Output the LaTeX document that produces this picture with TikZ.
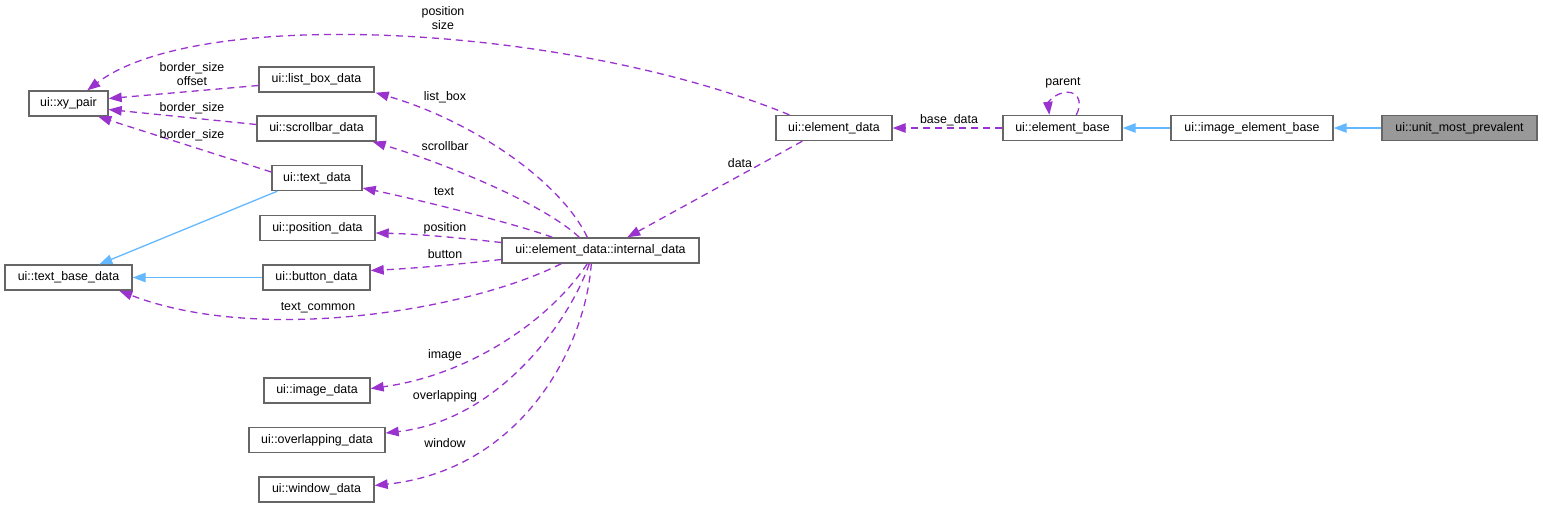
\documentclass[tikz,border=0pt]{standalone}
\usepackage{fontspec}
\setmainfont{Liberation Sans}
\usetikzlibrary{arrows.meta}
\definecolor{dep}{HTML}{9A32CD}
\definecolor{inh}{HTML}{63B8FF}
\definecolor{bord}{HTML}{666666}
\definecolor{focus}{HTML}{999999}
\tikzset{
  box/.style={draw=bord, line width=1.4pt, fill=white, minimum height=25pt, inner sep=0pt, font=\fontsize{12.4}{14}\selectfont},
  focusbox/.style={box, fill=focus},
  depline/.style={draw=dep, line width=1.3pt, dash pattern=on 7pt off 5pt, -{Triangle[length=13pt,width=9.5pt,fill=dep]}},
  inhline/.style={draw=inh, line width=1.3pt, -{Triangle[length=13pt,width=9.5pt,fill=inh]}},
  lbl/.style={font=\fontsize{12.4}{14}\selectfont, inner sep=0pt, align=center}
}
\begin{document}
\begin{tikzpicture}[x=1pt,y=-1pt]
\path[use as bounding box] (0,0) rectangle (1543,507);
% nodes
\node[box, minimum width=79pt]  (xy) at (68.5,103.5) {ui::xy\_pair};
\node[box, minimum width=115pt] (lb) at (316.5,79.5) {ui::list\_box\_data};
\node[box, minimum width=119pt] (sb) at (316.5,128.5) {ui::scrollbar\_data};
\node[box, minimum width=90pt]  (td) at (317,178) {ui::text\_data};
\node[box, minimum width=115pt] (pd) at (317.5,228) {ui::position\_data};
\node[box, minimum width=107pt] (bd) at (316.5,277.5) {ui::button\_data};
\node[box, minimum width=127pt] (tb) at (68.5,277.5) {ui::text\_base\_data};
\node[box, minimum width=106pt] (id) at (317,390.5) {ui::image\_data};
\node[box, minimum width=136pt] (od) at (317,440) {ui::overlapping\_data};
\node[box, minimum width=115pt] (wd) at (316.5,489.5) {ui::window\_data};
\node[box, minimum width=197pt] (in) at (600.5,250.5) {ui::element\_data::internal\_data};
\node[box, minimum width=116pt] (ed) at (834,128) {ui::element\_data};
\node[box, minimum width=119pt] (eb) at (1062.5,128) {ui::element\_base};
\node[box, minimum width=162pt] (ieb) at (1252,128) {ui::image\_element\_base};
\node[focusbox, minimum width=155pt] (ump) at (1459.5,128) {ui::unit\_most\_prevalent};
% inheritance
\draw[inhline] (ump.west) -- (ieb.east);
\draw[inhline] (ieb.west) -- (eb.east);
\draw[inhline] ([xshift=6pt]td.south west) -- ([xshift=95pt]tb.north west);
\draw[inhline] (bd.west) -- (tb.east);
% dependencies
\draw[depline] (eb.west) -- (ed.east);
\draw[depline] ([xshift=74pt]eb.north west) .. controls (1084,100) and (1076,89) .. (1062,93) .. controls (1052,96) and (1048,103) .. ([xshift=47pt]eb.north west);
\draw[depline] ([xshift=27pt]ed.south west) -- ([xshift=126pt]in.north west);
\draw[depline] ([xshift=14pt]ed.north west) .. controls (570,25) and (200,5) .. ([xshift=59pt]xy.north west);
\draw[depline] ([yshift=-6pt]lb.west) -- ([yshift=5pt]xy.east);
\draw[depline] ([yshift=4pt]sb.west) -- ([yshift=-6pt]xy.east);
\draw[depline] ([yshift=6pt]td.west) -- ([xshift=70pt]xy.south west);
\draw[depline] ([xshift=86pt]in.north west) .. controls (560,180) and (470,120) .. ([xshift=1pt]lb.south east);
\draw[depline] ([xshift=78pt]in.north west) .. controls (545,205) and (450,165) .. ([xshift=-4pt]sb.south east);
\draw[depline] ([xshift=51pt]in.north west) .. controls (520,225) and (420,200) .. ([yshift=-10pt]td.east);
\draw[depline] ([yshift=8pt]in.west) .. controls (460,238) and (420,234) .. ([yshift=-5pt]pd.east);
\draw[depline] ([yshift=-9pt]in.west) .. controls (460,264) and (420,268) .. ([yshift=7pt]bd.east);
\draw[depline] ([xshift=60pt]in.south west) .. controls (470,310) and (260,345) .. ([xshift=115pt]tb.south west);
\draw[depline] ([xshift=86pt]in.south west) .. controls (550,320) and (470,375) .. ([yshift=2pt]id.east);
\draw[depline] ([xshift=88pt]in.south west) .. controls (570,320) and (500,420) .. ([yshift=7pt]od.east);
\draw[depline] ([xshift=90pt]in.south west) .. controls (585,350) and (520,470) .. ([yshift=4pt]wd.east);
% labels
\node[lbl] (l1) at (443,18) {position\\size};
\node[lbl] (l2) at (192,74) {border\_size\\offset};
\node[lbl] (l3) at (192,108) {border\_size};
\node[lbl] (l4) at (192,135) {border\_size};
\node[lbl] (l5) at (445,97) {list\_box};
\node[lbl] (l6) at (445,146) {scrollbar};
\node[lbl] (l7) at (444,192) {text};
\node[lbl] (l8) at (445,228) {position};
\node[lbl] (l9) at (445,254) {button};
\node[lbl] (l10) at (318,308) {text\_common};
\node[lbl] (l11) at (445,355) {image};
\node[lbl] (l12) at (445,396) {overlapping};
\node[lbl] (l13) at (445,443) {window};
\node[lbl] (l14) at (740,163) {data};
\node[lbl] (l15) at (949,120) {base\_data};
\node[lbl] (l16) at (1063,83) {parent};
\end{tikzpicture}
\end{document}
